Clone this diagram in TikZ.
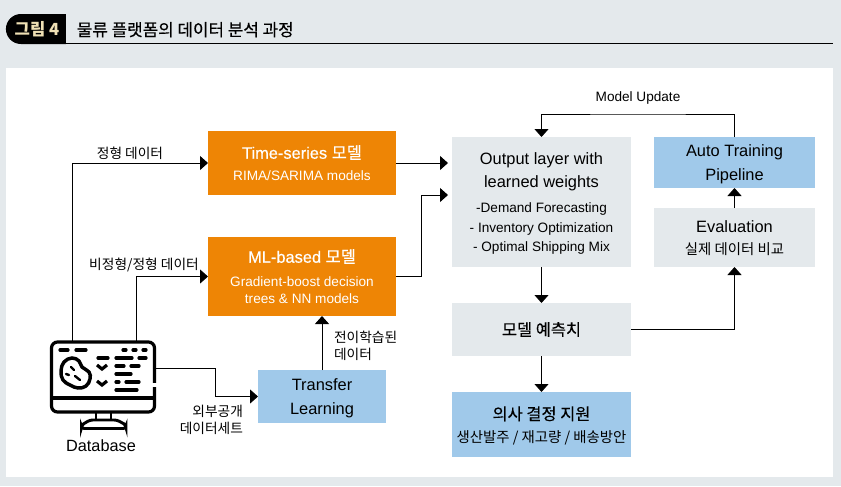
\documentclass[tikz,border=0pt]{standalone}
\usepackage{fontspec}
\usepackage{tikz}
\usetikzlibrary{positioning,arrows.meta,shapes.misc}
\setmainfont{Liberation Sans}
\newfontfamily\krfont{Noto Sans CJK KR}
\newfontfamily\krmed[FakeBold=0.4]{Noto Sans CJK KR}
\newfontfamily\latmed[FakeBold=0.5]{Liberation Sans}
\newcommand{\ko}[1]{{\krfont #1}}
\newcommand{\kob}[1]{{\krfont\bfseries #1}}
\newcommand{\kom}[1]{{\krmed #1}}
\newcommand{\subtxt}[1]{{\fontsize{10.2}{12}\selectfont #1}}
\newcommand{\subko}[1]{{\fontsize{10.8}{12}\selectfont\krfont #1}}
\definecolor{bggrey}{HTML}{E4E9EC}
\definecolor{boxorange}{HTML}{EE8505}
\definecolor{boxblue}{HTML}{A0C9EA}
\definecolor{badgetext}{HTML}{EFE0B4}
\tikzset{
	>={Triangle[length=6pt,width=10.5pt]},
	boxbase/.style={
		rectangle,
		inner sep=0pt,
		outer sep=0pt,
		align=center,
		font=\fontsize{12.3}{18}\selectfont},
	orangebox/.style={boxbase,fill=boxorange,text=white,minimum width=141pt},
	bluebox/.style={boxbase,fill=boxblue},
	greybox/.style={boxbase,fill=bggrey},
	flow/.style={line width=.75pt},
	tag/.style={inner sep=0pt,outer sep=0pt,align=center,font=\fontsize{10.3}{13}\selectfont}
}
\begin{document}
\begin{tikzpicture}[x=.75pt,y=-.75pt]
			
			\useasboundingbox (0,0) rectangle (841,486);
			\fill[bggrey] (0,0) rectangle (841,486);
			\fill[white] (6,68) rectangle (833,477);
			
			% title
			\node (badge)[rounded rectangle,rounded rectangle right arc=none,fill=black,text=badgetext,
				minimum width=45pt,minimum height=22.5pt,inner sep=0pt,outer sep=0pt,
				font=\fontsize{12.5}{14}\selectfont] at (37,29){\kob{그림 4}};
			\node (title)[right=8pt of badge,inner sep=0pt,font=\fontsize{12.65}{14}\selectfont,yshift=-.5pt]{\kom{물류 플랫폼의 데이터 분석 과정}};
			\coordinate (ruleend) at (833,43);
			\draw[line width=.6pt] (badge.east |- ruleend) -- (ruleend);
			
			% boxes
			\node (ts)[orangebox,minimum height=48pt] at (302,163){{\latmed Time-series \kom{모델}}\\[-1.5pt]\subtxt{RIMA/SARIMA models}};
			
			\node (ml)[orangebox,minimum height=59.25pt,below=31.5pt of ts]{{\latmed ML-based \kom{모델}}\\[0pt]\subtxt{Gradient-boost decision}\\[-5.25pt]\subtxt{trees \& NN models}};
			
			\node (tl)[bluebox,minimum width=96pt,minimum height=39.75pt,text depth=-.5pt] at (322,396.5){Transfer\\Learning};
			
			\node (out)[greybox,minimum width=134.25pt,minimum height=97.5pt,text depth=-.5pt] at (541.5,202){Output layer with\\[-.5pt]learned weights\\[1pt]\subtxt{-Demand Forecasting}\\[-3.4pt]\subtxt{- Inventory Optimization}\\[-3.4pt]\subtxt{- Optimal Shipping Mix}};
			
			\node (pred)[greybox,minimum width=134.25pt,minimum height=39.75pt,below=27pt of out]{\kom{모델 예측치}};
			
			\node (dec)[bluebox,minimum width=134.25pt,minimum height=48.75pt,text depth=-.2pt,below=27pt of pred]{\kom{의사 결정 지원}\\[-1pt]\subko{생산발주 / 재고량 / 배송방안}};
			
			\node (auto)[bluebox,minimum width=120.75pt,minimum height=38.25pt,text depth=-.5pt] at (734.5,162.5){Auto Training\\Pipeline};
			
			\node (eval)[greybox,minimum width=120.75pt,minimum height=44.25pt,text depth=-1.7pt,below=15pt of auto]{Evaluation\\[-1pt]\subko{실제 데이터 비교}};
			
			\node (db)[inner sep=0pt,outer sep=0pt,minimum width=79.5pt,minimum height=66pt] at (103,385){};
			
			\node (dbname)[tag,font=\fontsize{12.2}{14}\selectfont] at (101,446){Database};
			
			% database icon
			\draw[line width=2.4pt,rounded corners=4.5pt] (51.5,342) rectangle (154.5,412);
			\draw[line width=2.4pt] (51.5,398) -- (154.5,398);
			\fill[white] (152,383) rectangle (157,387);
			\draw[line width=2.2pt] (96,413) -- (96,420) (111,413) -- (111,420);
			\draw[line width=2.2pt,rounded corners=2pt] (81.5,428.5) -- (81.5,425) -- (90,420) -- (117,420) -- (126,425) -- (126,428.5) -- cycle;
			\draw[line width=2.6pt] plot[smooth cycle,tension=.7] coordinates {(64,362) (72,358) (79,361) (82,367) (89,372) (90,379) (86,386) (78,388) (70,385) (63,380) (61,371)};
			\foreach \xa/\xb/\ya in {60/68/350,76/86/350,123/126/350,133/136/350,143/146/350,
				98/108/358,116/132/358,139/146/358,116/124/366,131/139/366,116/131/374,
				116/119/382,126/139/382,116/137/390}
				\draw[line width=2.4pt,line cap=round] (\xa,\ya) -- (\xb,\ya);
			\foreach \ya in {367,383}
				\draw[line width=2.4pt] (97,\ya-2) -- (102,\ya+2) -- (107,\ya-2);
			\draw[line width=1.8pt,line cap=round] (71,367) -- (74,370) (66,374) -- (69,375) (75,376) -- (80,380);
			
			% connectors
			\coordinate (dba) at (72,341);
			\coordinate (dbb) at (136,341);
			\coordinate (dbc) at (156,368);
			\coordinate (mla) at (421,195);
			\coordinate (outa) at (448,163);
			\coordinate (outb) at (448,195);
			\coordinate (upd) at (638,114);
			
			\draw[flow,->] (dba) |- (ts.west);
			\draw[flow,->] (dbb) |- (ml.west);
			\draw[flow,->] (dbc) -| (215,396.5) -- (tl.west);
			\draw[flow,->] (tl.north) -- (tl.north |- ml.south);
			\draw[flow,->] (ts.east) -- (outa);
			\draw[flow,->] (ml.east) -| (mla) -- (outb);
			\draw[flow,->] (out.south) -- (pred.north);
			\draw[flow,->] (pred.south) -- (dec.north);
			\draw[flow,->] (pred.east) -| (eval.south);
			\draw[flow,->] (eval.north) -- (auto.south);
			\draw[flow,->] (auto.north) |- (upd) -| (out.north);
			
			% labels
			\node (lbla)[tag] at (130,153){\ko{정형 데이터}};
			\node (lblb)[tag] at (144,265){\ko{비정형/정형 데이터}};
			\node (lblc)[tag,align=right,anchor=east] at (243,420){\ko{외부공개}\\\ko{데이터세트}};
			\node (lbld)[tag,align=left,anchor=west] at (334,346){\ko{전이학습된}\\\ko{데이터}};
			\node (lble)[tag,font=\fontsize{10.2}{12}\selectfont] at (638,98){Model Update};
			
		\end{tikzpicture}
\end{document}
